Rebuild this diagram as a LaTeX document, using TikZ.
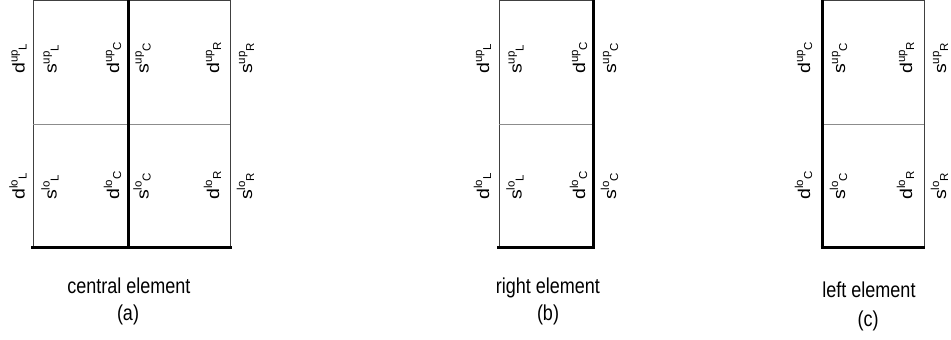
\documentclass[tikz,border=0pt]{standalone}
\usepackage{fontspec}
\setmainfont{Liberation Sans}
\newcommand{\lbl}[3]{{\fontsize{17}{20}\selectfont\scalebox{1.15}[1]{#1}}%
  {\fontsize{11.5}{13}\selectfont\raisebox{7pt}{#2}\raisebox{-2pt}{#3}}}
\tikzset{
  thin line/.style={line width=0.8pt, black!75},
  mid line/.style={line width=0.8pt, black!45},
  thick line/.style={line width=3pt, black},
  rl/.style={rotate=90, anchor=base west, inner sep=0pt},
  captext/.style={anchor=base, inner sep=0pt, font=\fontsize{18}{20}\selectfont, yscale=1.2, transform shape},
}
\begin{document}
\begin{tikzpicture}[x=1pt, y=-1pt]
\useasboundingbox (0,0) rectangle (951,340);
% ---------- (a) central element
\draw[thin line] (33,247) -- (33,0.5) -- (230,0.5) -- (230,247);
\draw[mid line] (33,124) -- (230,124);
\draw[thick line] (128,0) -- (128,247);
\draw[thick line] (31,247) -- (231.5,247);
\node[rl] (a1) at (24.5,74) {\lbl{d}{up}{L}};
\node[rl] (a2) at (56.5,74) {\lbl{s}{up}{L}};
\node[rl] (a3) at (119,74) {\lbl{d}{up}{C}};
\node[rl] (a4) at (148.5,74) {\lbl{s}{up}{C}};
\node[rl] (a5) at (219,74) {\lbl{d}{up}{R}};
\node[rl] (a6) at (252,74) {\lbl{s}{up}{R}};
\node[rl] (a7) at (24.5,200) {\lbl{d}{lo}{L}};
\node[rl] (a8) at (56.5,200) {\lbl{s}{lo}{L}};
\node[rl] (a9) at (119,200) {\lbl{d}{lo}{C}};
\node[rl] (a10) at (148.5,200) {\lbl{s}{lo}{C}};
\node[rl] (a11) at (219,200) {\lbl{d}{lo}{R}};
\node[rl] (a12) at (252,200) {\lbl{s}{lo}{R}};
\node[captext] (ta) at (129,293) {central element};
\node[captext] (la) at (128,320) {(a)};
% ---------- (b) right element
\draw[thin line] (499,247) -- (499,0.5) -- (593,0.5);
\draw[mid line] (499,124) -- (593,124);
\draw[thick line] (593,0) -- (593,248.5);
\draw[thick line] (497,247) -- (594.5,247);
\node[rl] (b1) at (489,74) {\lbl{d}{up}{L}};
\node[rl] (b2) at (521.5,74) {\lbl{s}{up}{L}};
\node[rl] (b3) at (585,74) {\lbl{d}{up}{C}};
\node[rl] (b4) at (616,74) {\lbl{s}{up}{C}};
\node[rl] (b5) at (489,200) {\lbl{d}{lo}{L}};
\node[rl] (b6) at (521.5,200) {\lbl{s}{lo}{L}};
\node[rl] (b7) at (585,200) {\lbl{d}{lo}{C}};
\node[rl] (b8) at (616,200) {\lbl{s}{lo}{C}};
\node[captext] (tb) at (548,293) {right element};
\node[captext] (lb) at (548,320) {(b)};
% ---------- (c) left element
\draw[thin line] (822,0.5) -- (924,0.5) -- (924,247);
\draw[mid line] (822,124) -- (924,124);
\draw[thick line] (822,0) -- (822,248.5);
\draw[thick line] (820.5,247) -- (925,247);
\node[rl] (c1) at (810,74) {\lbl{d}{up}{C}};
\node[rl] (c2) at (845,74) {\lbl{s}{up}{C}};
\node[rl] (c3) at (912,74) {\lbl{d}{up}{R}};
\node[rl] (c4) at (946,74) {\lbl{s}{up}{R}};
\node[rl] (c5) at (810,200) {\lbl{d}{lo}{C}};
\node[rl] (c6) at (845,200) {\lbl{s}{lo}{C}};
\node[rl] (c7) at (912,200) {\lbl{d}{lo}{R}};
\node[rl] (c8) at (946,200) {\lbl{s}{lo}{R}};
\node[captext] (tc) at (869,297) {left element};
\node[captext] (lc) at (868,326) {(c)};
\end{tikzpicture}
\end{document}
